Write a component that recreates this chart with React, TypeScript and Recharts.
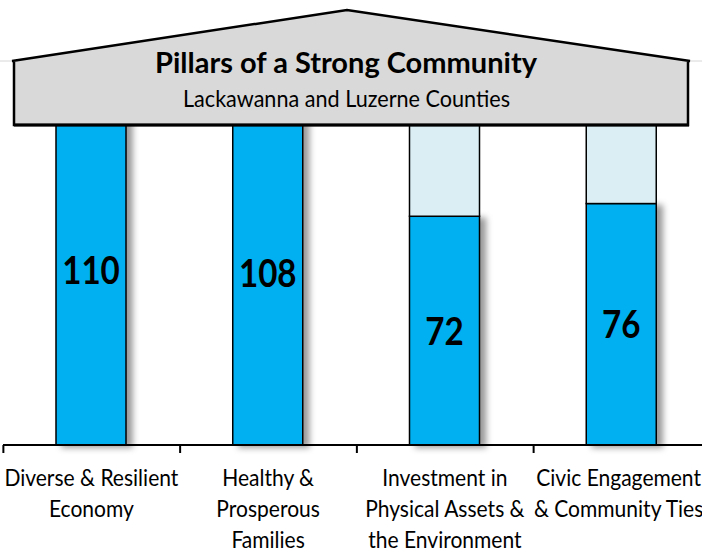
import React from "react";
import { BarChart, Bar, XAxis, YAxis, LabelList } from "recharts";

const categories = [
  "Diverse & Resilient Economy",
  "Healthy & Prosperous Families",
  "Investment in Physical Assets & the Environment",
  "Civic Engagement & Community Ties",
];
const categoryLines = [
  ["Diverse & Resilient", "Economy"],
  ["Healthy &", "Prosperous", "Families"],
  ["Investment in", "Physical Assets &", "the Environment"],
  ["Civic Engagement", "& Community Ties"],
];
const scores = [110, 108, 72, 76];
const pillarHeights = [115, 115, 115, 115];
const title = "Pillars of a Strong Community";
const subtitle = "Lackawanna and Luzerne Counties";

const data = categories.map((c, i) => ({
  name: c,
  score: scores[i],
  rest: pillarHeights[i] - scores[i],
}));

const FONT = "Lato, 'Noto Sans', sans-serif";
const HALF_BAND = 88;

const CategoryTick = (props: any) => {
  const { x, y, payload } = props;
  const idx = categories.indexOf(payload.value);
  const lines = categoryLines[idx] || [payload.value];
  const shift = idx === categories.length - 1 ? -3 : 0;
  return (
    <g>
      <line x1={x - HALF_BAND} x2={x - HALF_BAND} y1={y} y2={y + 8} stroke="#000" strokeWidth={2} />
      {idx === categories.length - 1 && (
        <line x1={x + HALF_BAND} x2={x + HALF_BAND} y1={y} y2={y + 8} stroke="#000" strokeWidth={2} />
      )}
      {lines.map((l, i) => (
        <text
          key={i}
          transform={`translate(${x + shift},${y + 41 + i * 31}) scale(0.935,1)`}
          textAnchor="middle"
          fontFamily={FONT}
          fontSize={22.5}
          fill="#000"
        >
          {l}
        </text>
      ))}
    </g>
  );
};

const ValueLabel = (props: any) => {
  const { x, y, width, height, value } = props;
  const cx = x + width / 2;
  const cy = y + height / 2;
  return (
    <text
      transform={`translate(${cx},${cy + 14}) scale(0.85,1)`}
      textAnchor="middle"
      fontFamily={FONT}
      fontWeight={700}
      fontSize={39}
      fill="#000"
    >
      {value}
    </text>
  );
};

const BlueShape = (p: any) => (
  <rect
    x={p.x}
    y={p.y}
    width={p.width}
    height={p.height}
    fill="#00B0F0"
    stroke="#000"
    strokeWidth={1.5}
    filter="url(#pillarShadow)"
  />
);

const LightShape = (p: any) => (
  <rect
    x={p.x}
    y={p.y}
    width={p.width}
    height={p.height}
    fill="#DAEEF3"
    stroke="#000"
    strokeWidth={1.5}
  />
);

export default function App() {
  return (
    <div style={{ position: "absolute", left: 0, top: 0, width: 702, height: 552, overflow: "hidden", background: "#fff" }}>
      <BarChart
        width={710}
        height={552}
        data={data}
        margin={{ top: 32, right: 0, left: 3, bottom: 0 }}
        barSize={70}
      >
        <YAxis hide domain={[0, 130]} />
        <XAxis
          dataKey="name"
          height={107}
          axisLine={{ stroke: "#000", strokeWidth: 2 }}
          tickLine={false}
          tickSize={0}
          tickMargin={0}
          interval={0}
          tick={<CategoryTick />}
        />
        <Bar dataKey="score" stackId="a" isAnimationActive={false} shape={<BlueShape />}>
          <LabelList dataKey="score" content={<ValueLabel />} />
        </Bar>
        <Bar dataKey="rest" stackId="a" isAnimationActive={false} shape={<LightShape />} />
      </BarChart>
      <svg
        width={702}
        height={552}
        style={{ position: "absolute", left: 0, top: 0, pointerEvents: "none" }}
      >
        <defs>
          <filter id="pillarShadow" x="-20%" y="-5%" width="150%" height="110%">
            <feDropShadow dx={6} dy={2} stdDeviation={3} floodColor="#000" floodOpacity={0.4} />
          </filter>
        </defs>
        <line x1={0} x2={702} y1={61} y2={61} stroke="#d6d6d6" strokeWidth={1} />
        <path
          d="M14,125 L14,61 L12,61 L347,10 L690,61 L688,61 L688,125 Z"
          fill="#D9D9D9"
          stroke="#000"
          strokeWidth={2.5}
          strokeLinejoin="miter"
        />
        <line x1={14} x2={689} y1={125} y2={125} stroke="#000" strokeWidth={3} />
        <text
          x={346}
          y={73}
          textAnchor="middle"
          fontFamily={FONT}
          fontWeight={700}
          fontSize={29}
          textLength={382}
          lengthAdjust="spacingAndGlyphs"
          fill="#000"
        >
          {title}
        </text>
        <text
          x={346.5}
          y={107}
          textAnchor="middle"
          fontFamily={FONT}
          fontSize={23}
          textLength={327}
          lengthAdjust="spacingAndGlyphs"
          fill="#000"
        >
          {subtitle}
        </text>
      </svg>
    </div>
  );
}
